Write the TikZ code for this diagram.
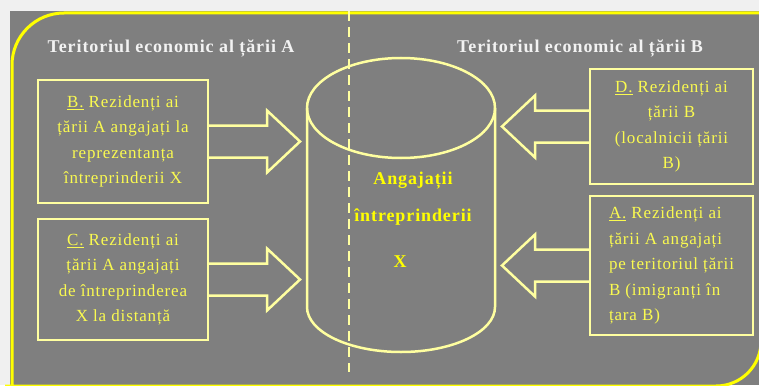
\documentclass[tikz,border=0pt]{standalone}
\usepackage{fontspec}
\setmainfont{Liberation Serif}[LetterSpace=5]
\usetikzlibrary{
  positioning,
  calc
}

\definecolor{panelgray}{RGB}{127,127,127}
\definecolor{framey}{RGB}{255,255,0}
\definecolor{paley}{RGB}{255,255,160}
\definecolor{texty}{RGB}{250,250,80}
\definecolor{headw}{RGB}{242,242,242}

\begin{document}
\begin{tikzpicture}[
  x=1pt, y=-1pt,
  box/.style={draw=paley, line width=2.5pt, text=texty, align=center,
    inner sep=0pt, outer sep=0pt, font=\fontsize{17}{25.5}\selectfont},
  fat/.style={draw=paley, line width=2.5pt, line join=miter},
  head/.style={text=headw, font=\fontsize{18}{22}\selectfont\bfseries},
  mid/.style={text=framey, align=center, font=\fontsize{18}{37}\selectfont\bfseries},
  cyl/.style={minimum width=188pt, minimum height=294pt, inner sep=0pt, outer sep=0pt},
  tub/.style={draw=paley, line width=2.5pt}
]
\useasboundingbox (0,0) rectangle (759,385);
\fill[gray!12] (0,0) rectangle (759,385);
\fill[panelgray] (10,11) rectangle (759,385);
\draw[framey, line width=3pt] (12,392) -- (12,65) .. controls (12,36.3) and (35.3,13) .. (64,13)
  -- (761,13) -- (761,341) .. controls (761,366) and (741,386) .. (716,386) -- (5,386);
\draw[paley, line width=2pt, dash pattern=on 10pt off 6pt] (349,11) -- (349,372);

\node[head] (terA) at (171,48) {Teritoriul economic al țării A};
\node[head] (terB) at (580,48) {Teritoriul economic al țării B};

% the cylinder
\node[cyl] (cyl) at (401,205) {};
\draw[tub] ($(cyl.north)+(0,50)$) ellipse [x radius=94pt, y radius=50pt];
\draw[tub] ($(cyl.north west)+(0,50)$) -- ($(cyl.south west)+(0,-45)$)
  arc[start angle=180, end angle=360, x radius=94pt, y radius=45pt]
  -- ($(cyl.north east)+(0,50)$);
\node[mid] (ang) at (413,198.5) {Angajații\\întreprinderii};
\node[mid] (angx) at (400,262) {X};

\node[box, minimum width=170pt, minimum height=123pt] (B) at (123,141.5)
  {\underline{B.} Rezidenți ai\\țării A angajați la\\reprezentanța\\întreprinderii X};
\node[box, minimum width=170pt, minimum height=121pt, below=16pt of B] (C)
  {\underline{C.} Rezidenți ai\\țării A angajați\\de întreprinderea\\X la distanță};
\node[box, minimum width=163pt, minimum height=115pt] (D) at (671.5,126.5)
  {\underline{D.} Rezidenți ai\\țării B\\(localnicii țării\\B)};
\node[box, minimum width=163pt, minimum height=139pt, below=12pt of D, align=left] (A)
  {\underline{A.} Rezidenți ai\\țării A angajați\\pe teritoriul țării\\B (imigranți în\\țara B)};

\coordinate (tipB) at ($(cyl.west |- B.east)+(-7,0)$);
\coordinate (tipC) at ($(cyl.west |- C.east)+(-7,0)$);
\coordinate (tipD) at ($(cyl.east |- D.west)+(7,0)$);
\coordinate (tipA) at ($(cyl.east |- A.west)+(7,0)$);

\draw[fat] ($(B.east)+(0,-16)$) -- ($(tipB)+(-33,-16)$) -- ++(0,-15) -- (tipB)
  -- ($(tipB)+(-33,31)$) -- ++(0,-15) -- ($(B.east)+(0,16)$);
\draw[fat] ($(C.east)+(0,-16)$) -- ($(tipC)+(-33,-16)$) -- ++(0,-15) -- (tipC)
  -- ($(tipC)+(-33,31)$) -- ++(0,-15) -- ($(C.east)+(0,16)$);
\draw[fat] ($(D.west)+(0,-16)$) -- ($(tipD)+(33,-16)$) -- ++(0,-15) -- (tipD)
  -- ($(tipD)+(33,31)$) -- ++(0,-15) -- ($(D.west)+(0,16)$);
\draw[fat] ($(A.west)+(0,-16)$) -- ($(tipA)+(33,-16)$) -- ++(0,-15) -- (tipA)
  -- ($(tipA)+(33,31)$) -- ++(0,-15) -- ($(A.west)+(0,16)$);
\end{tikzpicture}
\end{document}
